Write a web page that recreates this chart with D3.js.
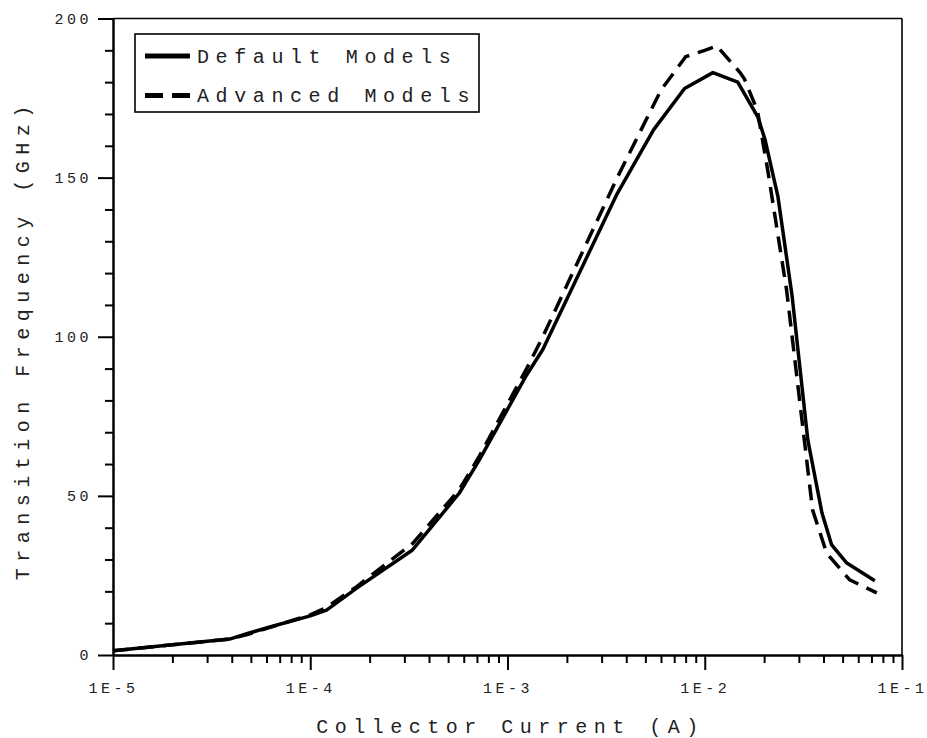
<!DOCTYPE html>
<html>
<head>
<meta charset="utf-8">
<script src="https://cdn.jsdelivr.net/npm/d3@7"></script>
<style>
  body { margin: 0; background: #fff; }
  text { font-family: "Liberation Mono", "DejaVu Sans Mono", monospace; fill: #222; }
</style>
</head>
<body>
<div id="chart"></div>
<script>
// collector current (A) and transition frequency (GHz)
var currentDefault = [1e-5, 2e-5, 3.9e-5, 4.9e-5, 6.5e-5, 1e-4, 1.21e-4, 1.72e-4, 3.3e-4, 5.7e-4,
    7.2e-4, 1.25e-3, 1.51e-3, 3.6e-3, 5.5e-3, 7.9e-3, 1.1e-2, 1.47e-2, 1.86e-2, 2.02e-2,
    2.35e-2, 2.77e-2, 3.33e-2, 3.93e-2, 4.4e-2, 5.25e-2, 7.28e-2];
var ftDefault = [1.3, 3.2, 5.0, 6.9, 9.1, 12.3, 14.1, 21, 33, 50.9,
    61.3, 88, 96, 145, 165, 178, 183, 180, 169, 162,
    144, 113, 67.6, 44.6, 34.6, 28.9, 23.3];

var currentAdvanced = [1e-5, 2e-5, 3.9e-5, 4.9e-5, 6.5e-5, 1e-4, 1.21e-4, 1.72e-4, 3.3e-4, 5.7e-4,
    7.2e-4, 1.25e-3, 1.51e-3, 3.6e-3, 6.0e-3, 8.0e-3, 1.0e-2, 1.15e-2, 1.51e-2, 1.59e-2,
    1.85e-2, 2.09e-2, 2.6e-2, 3.52e-2, 4.15e-2, 5.43e-2, 7.45e-2];
var ftAdvanced = [1.3, 3.2, 5.0, 6.6, 9.0, 12.6, 15.0, 21.5, 35, 52,
    62.5, 90, 100, 150, 177.5, 188, 190, 191.4, 183, 181,
    171, 152, 114.7, 45.6, 32, 23.6, 19.5];

var xMajor = [1e-5, 1e-4, 1e-3, 1e-2, 1e-1];
var xLabels = ["1E-5", "1E-4", "1E-3", "1E-2", "1E-1"];
var yMajor = [0, 50, 100, 150, 200];
var seriesNames = ["Default Models", "Advanced Models"];

var width = 927, height = 738;
var plot = { left: 113, right: 902, top: 18.5, bottom: 655 };

var svg = d3.select("#chart").append("svg")
    .attr("width", width)
    .attr("height", height);

var x = d3.scaleLog().domain([1e-5, 1e-1]).range([plot.left, plot.right]);
var y = d3.scaleLinear().domain([0, 200]).range([plot.bottom, plot.top]);

// minor ticks: 2..9 in each decade, every 10 GHz on y
var xMinor = [];
for (var d = -5; d < -1; d++) {
    for (var m = 2; m <= 9; m++) xMinor.push(m * Math.pow(10, d));
}
var yMinor = d3.range(0, 201, 10).filter(function(v) { return v % 50 != 0; });

function styleAxis(g) {
    g.select(".domain").attr("stroke", "#000").attr("stroke-width", 2);
    g.selectAll(".tick line").attr("stroke", "#000").attr("stroke-width", 2);
    g.selectAll(".tick text")
        .style("font-family", "'Liberation Mono', monospace")
        .style("font-size", "15px")
        .style("letter-spacing", "3.5px")
        .attr("fill", "#333");
}

// x axis
svg.append("g")
    .attr("transform", "translate(0," + plot.bottom + ")")
    .call(d3.axisBottom(x).tickValues(xMinor).tickSize(8).tickSizeOuter(0).tickFormat(""))
    .call(styleAxis);
svg.append("g")
    .attr("transform", "translate(0," + plot.bottom + ")")
    .call(d3.axisBottom(x).tickValues(xMajor).tickSize(15).tickSizeOuter(0).tickPadding(12)
        .tickFormat(function(d, i) { return xLabels[i]; }))
    .call(styleAxis);

// y axis
svg.append("g")
    .attr("transform", "translate(" + plot.left + ",0)")
    .call(d3.axisLeft(y).tickValues(yMinor).tickSize(8).tickSizeOuter(0).tickFormat(""))
    .call(styleAxis);
svg.append("g")
    .attr("transform", "translate(" + plot.left + ",0)")
    .call(d3.axisLeft(y).tickValues(yMajor).tickSize(15).tickSizeOuter(0).tickPadding(6)
        .tickFormat(d3.format("d")))
    .call(styleAxis);

// frame top and right
svg.append("line")
    .attr("x1", plot.left).attr("x2", plot.right)
    .attr("y1", y(200)).attr("y2", y(200))
    .attr("stroke", "#000").attr("stroke-width", 1.6);
svg.append("line")
    .attr("x1", x(1e-1)).attr("x2", x(1e-1))
    .attr("y1", plot.top).attr("y2", plot.bottom)
    .attr("stroke", "#000").attr("stroke-width", 1.6);

// curves
var line = d3.line()
    .x(function(d) { return x(d[0]); })
    .y(function(d) { return y(d[1]); });

svg.append("path")
    .datum(d3.zip(currentDefault, ftDefault))
    .attr("d", line)
    .attr("fill", "none")
    .attr("stroke", "#000")
    .attr("stroke-width", 3.5)
    .attr("stroke-linejoin", "round");

svg.append("path")
    .datum(d3.zip(currentAdvanced, ftAdvanced))
    .attr("d", line)
    .attr("fill", "none")
    .attr("stroke", "#000")
    .attr("stroke-width", 3.5)
    .attr("stroke-dasharray", "16,9");

// axis titles
svg.append("text")
    .attr("x", (plot.left + plot.right) / 2 + 3)
    .attr("y", 733)
    .style("text-anchor", "middle")
    .style("font-size", "20px")
    .style("letter-spacing", "6.5px")
    .text("Collector Current (A)");

svg.append("text")
    .attr("transform", "translate(29," + ((plot.top + plot.bottom) / 2 + 3) + ") rotate(-90)")
    .style("text-anchor", "middle")
    .style("font-size", "20px")
    .style("letter-spacing", "6.5px")
    .text("Transition Frequency (GHz)");

// legend
var legend = svg.append("g");
legend.append("rect")
    .attr("x", 135).attr("y", 34)
    .attr("width", 344).attr("height", 78)
    .attr("fill", "#fff")
    .attr("stroke", "#000")
    .attr("stroke-width", 1.6);

seriesNames.forEach(function(name, i) {
    var cy = 56 + i * 39.5;
    legend.append("line")
        .attr("x1", 145).attr("x2", 190)
        .attr("y1", cy).attr("y2", cy)
        .attr("stroke", "#000")
        .attr("stroke-width", 5)
        .attr("stroke-dasharray", i == 1 ? "18,9" : null);
    legend.append("text")
        .attr("x", 197)
        .attr("y", cy + 6.5)
        .style("font-size", "20px")
        .style("letter-spacing", "6.6px")
        .text(name);
});
</script>
</body>
</html>
